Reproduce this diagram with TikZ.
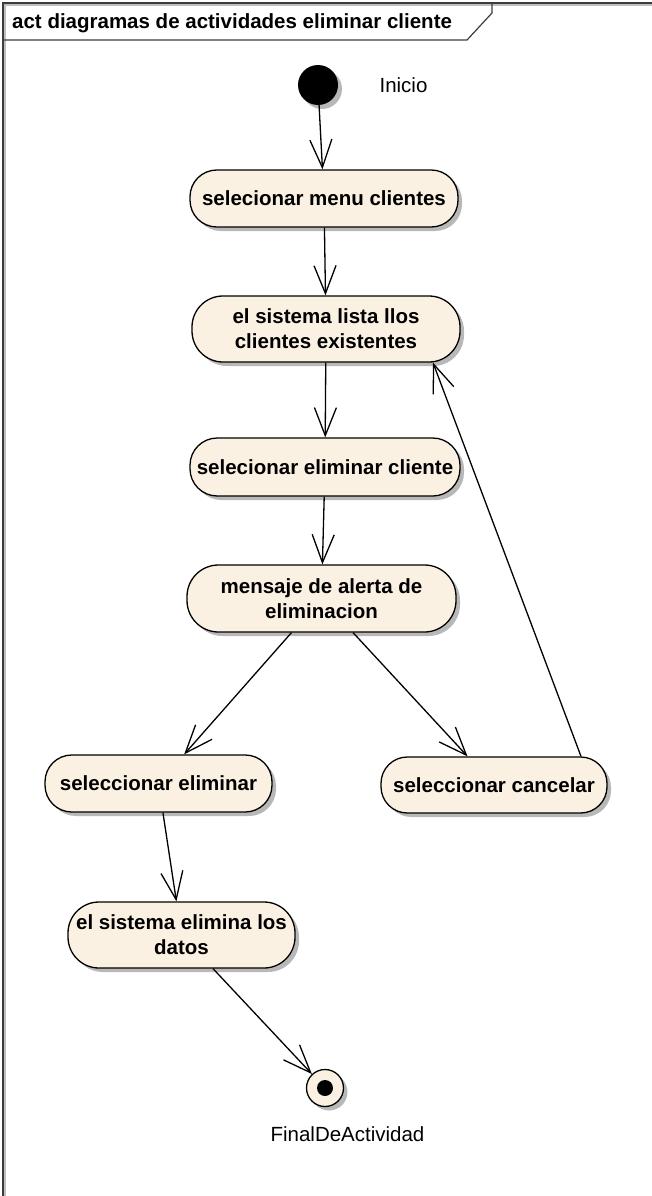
\documentclass[tikz,border=0pt]{standalone}
\usepackage{fontspec}
\setmainfont{Liberation Sans}
\usetikzlibrary{arrows.meta,shadows,calc}
\definecolor{cream}{RGB}{251,241,227}
\definecolor{framec}{RGB}{60,60,60}
\newcommand\actfont{\fontsize{20.5}{25}\selectfont\bfseries}
\newcommand\lblfont{\fontsize{20.5}{25}\selectfont}
\tikzset{
  shad/.style={drop shadow={shadow xshift=4pt, shadow yshift=-4pt, fill=black!28, opacity=1}},
  act/.style 2 args={draw=black, line width=1.3pt, fill=cream, minimum width=#1, minimum height=#2,
    rounded corners=0.47*#2, align=center, inner sep=0pt, font=\actfont, shad},
  flow/.style={line width=1.3pt, -{Straight Barb[length=28pt,width=22pt,line width=1.3pt]}},
  lbl/.style={font=\lblfont, inner sep=0pt}
}
\begin{document}
\begin{tikzpicture}[x=1pt,y=-1pt]
\useasboundingbox (0,0) rectangle (652,1196);
% frame
\draw[black!25, line width=1.2pt] (5,1196) -- (5,5) -- (652,5);
\draw[framec, line width=1.5pt] (3,1196) -- (3,3) -- (652,3);
\draw[framec, line width=1.2pt] (3,40) -- (467,40) -- (492,13) -- (492,3);
\node[anchor=base west, inner sep=0pt, font=\actfont] (title) at (12,29) {act diagramas de actividades eliminar cliente};
% start / end
\node[circle, fill=black, minimum size=40pt, inner sep=0pt, shad] (start) at (318,85) {};
\node[lbl, anchor=base] (inicio) at (403.5,93) {Inicio};
\node[circle, draw=black, line width=1.3pt, fill=cream, minimum size=37pt, inner sep=0pt, shad] (fin) at (325,1088) {};
\node[circle, fill=black, minimum size=16pt, inner sep=0pt] (findot) at (fin.center) {};
\node[lbl, anchor=base] (finlbl) at (347.5,1141) {FinalDeActividad};
% actions
\node[act={268pt}{57pt}] (n1) at (324,198.5) {selecionar menu clientes};
\node[act={268pt}{66pt}] (n2) at (326,329) {el sistema lista llos\\clientes existentes};
\node[act={270pt}{58pt}] (n3) at (325,467) {selecionar eliminar cliente};
\node[act={269pt}{67pt}] (n4) at (321.5,598.5) {mensaje de alerta de\\eliminacion};
\node[act={227pt}{57pt}] (n5) at (158.5,783.5) {seleccionar eliminar};
\node[act={226pt}{56pt}] (n6) at (494,785) {seleccionar cancelar};
\node[act={227pt}{66pt}] (n7) at (181.5,935) {el sistema elimina los\\datos};
% flows
\draw[flow] (start) -- (n1);
\draw[flow] (n1) -- (n2);
\draw[flow] (n2) -- (n3);
\draw[flow] (n3) -- (n4);
\draw[flow] (n4) -- (n5);
\draw[flow] (n4) -- (n6);
\draw[flow] ($(n6.north)+(87,0)$) -- ($(n2.south)+(107,0)$);
\draw[flow] (n5) -- (n7);
\draw[flow] (n7) -- (fin);
\end{tikzpicture}
\end{document}
